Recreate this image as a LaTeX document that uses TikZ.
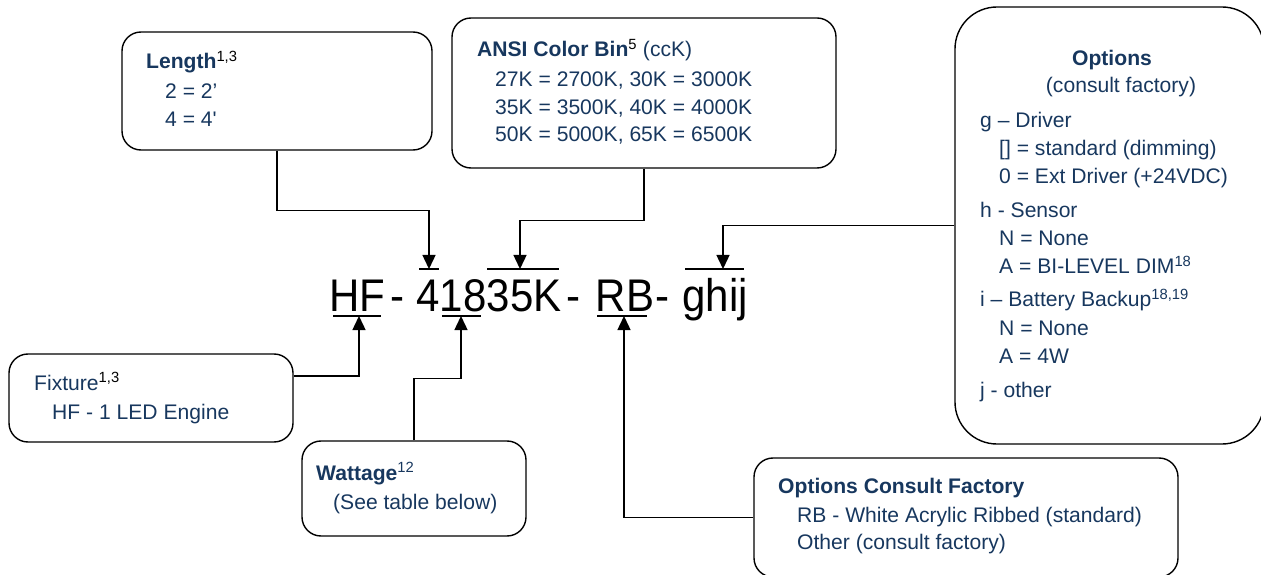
\documentclass[tikz,border=0pt]{standalone}
\usepackage{fontspec}
\setmainfont{Liberation Sans}
\usetikzlibrary{arrows.meta}
\definecolor{tblue}{HTML}{17375E}
\newcommand{\fsbox}{\fontsize{21.1bp}{24bp}\selectfont}
\newcommand{\fsbig}{\fontsize{42bp}{50bp}\selectfont}
\newcommand{\supk}[1]{\textsuperscript{\color{black}#1}}
\newcommand{\supb}[1]{\textsuperscript{#1}}
\newcommand{\tall}[1]{\scalebox{1}[1.09]{#1}}
\newcommand{\sq}{{\addfontfeature{Ligatures=TeXOff}'}}
\tikzset{
  box/.style={draw, line width=1.4bp, rounded corners=19bp, inner sep=0pt},
  conn/.style={line width=1.4bp, -{Triangle[width=13bp,length=14bp]}},
  bar/.style={line width=1.4bp},
  txt/.style={anchor=base west, inner sep=0pt, text=tblue, font=\fsbox},
  txtc/.style={anchor=base, inner sep=0pt, text=tblue, font=\fsbox},
  big/.style={anchor=base, inner sep=0pt, font=\fsbig},
}
\begin{document}
\begin{tikzpicture}[x=1bp,y=-1bp]
\useasboundingbox (0,0) rectangle (1261,575);

% boxes
\node[box, minimum width=310bp, minimum height=118bp] (len) at (277,91) {};
\node[box, minimum width=384bp, minimum height=150bp] (ansi) at (644,93) {};
\node[box, rounded corners=42bp, minimum width=309bp, minimum height=437bp] (opt) at (1109.5,225.5) {};
\node[box, minimum width=284bp, minimum height=88bp] (fix) at (151,398) {};
\node[box, minimum width=224bp, minimum height=95bp] (watt) at (414,488.5) {};
\node[box, minimum width=424bp, minimum height=119bp] (ocf) at (966,517.5) {};

% box texts
\node[txt] (lenT) at (146,69) {\textbf{Length}\supk{1,3}};
\node[txt] (lenA) at (165,99) {2 = 2'};
\node[txt] (lenB) at (165,127) {4 = 4\sq};

\node[txt] (ansiT) at (477,57) {\textbf{ANSI Color Bin}\supk{5} (ccK)};
\node[txt] (ansiA) at (495,87) {27K = 2700K, 30K = 3000K};
\node[txt] (ansiB) at (495,115) {35K = 3500K, 40K = 4000K};
\node[txt] (ansiC) at (495,142) {50K = 5000K, 65K = 6500K};

\node[txtc] (optT) at (1112,66) {\textbf{Options}};
\node[txtc] (optS) at (1121,93) {(consult factory)};
\node[txt] (optg) at (980,128) {g – Driver};
\node[txt] (optg1) at (999,156) {[] = standard (dimming)};
\node[txt] (optg2) at (999,184) {0 = Ext Driver (+24VDC)};
\node[txt] (opth) at (980,218) {h - Sensor};
\node[txt] (opth1) at (999,246) {N = None};
\node[txt] (opth2) at (999,274) {A = BI-LEVEL DIM\supb{18}};
\node[txt] (opti) at (980,307) {i – Battery Backup\supb{18,19}};
\node[txt] (opti1) at (999,336) {N = None};
\node[txt] (opti2) at (999,364) {A = 4W};
\node[txt] (optj) at (980,397) {j - other};

\node[txt] (fixT) at (34,390) {Fixture\supk{1,3}};
\node[txt] (fixA) at (52,419) {HF - 1 LED Engine};

\node[txt] (wattT) at (316,480) {\textbf{Wattage}\supb{12}};
\node[txt] (wattA) at (333,509) {(See table below)};

\node[txt] (ocfT) at (778,493) {\textbf{Options Consult Factory}};
\node[txt] (ocfA) at (797,522) {RB - White Acrylic Ribbed (standard)};
\node[txt] (ocfB) at (797,549) {Other (consult factory)};

% part number
\node[big] (hf) at (357,312) {\tall{HF}};
\node[big] (d1) at (397,312) {\tall{-}};
\node[big] (num) at (489,312) {\tall{41835K}};
\node[big] (d2) at (573,312) {\tall{-}};
\node[big] (rb) at (625,312) {\tall{RB}};
\node[big] (d3) at (662,312) {\tall{-}};
\node[big] (gh) at (715,312) {\tall{ghij}};

% bars
\draw[bar] (419,269) -- (439,269);
\draw[bar] (487,269) -- (559,269);
\draw[bar] (685,269) -- (744,269);
\draw[bar] (333,316) -- (381,316);
\draw[bar] (442,316) -- (481,316);
\draw[bar] (597,316) -- (647,316);
\coordinate (b4) at (429,269);
\coordinate (b835) at (520,269);
\coordinate (bghij) at (723,269);
\coordinate (bhf) at (359,316);
\coordinate (b18) at (461,316);
\coordinate (brb) at (624,316);

% connectors
\draw[conn] (len.south) -- ++(0,60) -| (b4);
\draw[conn] (ansi.south) -- ++(0,52) -| (b835);
\draw[conn] (opt.west) -| (bghij);
\draw[conn] ([yshift=22bp]fix.east) -| (bhf);
\draw[conn] (watt.north) -- ++(0,-62) -| (b18);
\draw[conn] (ocf.west) -| (brb);
\end{tikzpicture}
\end{document}
